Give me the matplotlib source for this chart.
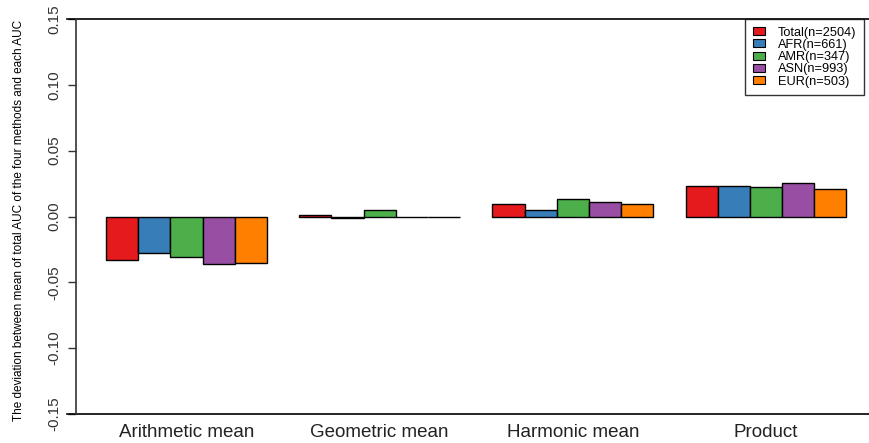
import numpy as np
import matplotlib
matplotlib.use("Agg")
import matplotlib.pyplot as plt
from matplotlib.patches import Patch

methods = ["Arithmetic mean", "Geometric mean", "Harmonic mean", "Product"]
groups = ["Total(n=2504)", "AFR(n=661)", "AMR(n=347)", "ASN(n=993)", "EUR(n=503)"]
colors = ["#E41A1C", "#377EB8", "#4DAF4A", "#984EA3", "#FF7F00"]

# deviation per method (rows) and population (columns)
total = [-0.0327, 0.0010, 0.0097, 0.0234]
afr = [-0.0280, -0.0010, 0.0053, 0.0234]
amr = [-0.0305, 0.0050, 0.0135, 0.0223]
asn = [-0.0360, 0.0000, 0.0112, 0.0256]
eur = [-0.0350, 0.0000, 0.0097, 0.0208]
values = [total, afr, amr, asn, eur]

yticks = [-0.15, -0.10, -0.05, 0.00, 0.05, 0.10, 0.15]

plt.rcParams['font.family'] = ['Liberation Sans', 'DejaVu Sans']

fig = plt.figure(figsize=(8.7, 4.43), dpi=100)
W, H = 870, 443
ax = fig.add_axes([76.4 / W, (H - 429.8) / H, (870 - 76.4) / W, 426.6 / H])

for i, vals in enumerate(values):
    xs = [g * 6 + 1 + i + 0.5 for g in range(len(methods))]
    ax.bar(xs, vals, width=1.0, color=colors[i], edgecolor="black", linewidth=1.0)

ax.set_xlim(0.08, 24.73)
ax.set_ylim(-0.162, 0.162)

for s in ["top", "right", "bottom"]:
    ax.spines[s].set_visible(False)
ax.spines["left"].set_bounds(-0.15, 0.15)
ax.spines["left"].set_linewidth(1.2)
ax.spines["left"].set_color("#333333")

ax.set_yticks(yticks)
ax.set_yticklabels(["%.2f" % t for t in yticks], rotation=90, va="center",
                   fontsize=11, color="#222222")
ax.tick_params(axis="y", length=6, width=1.0, pad=5, colors="#333333")

ax.set_xticks([g * 6 + 3.5 for g in range(len(methods))])
ax.set_xticklabels(methods, fontsize=13.5, color="#222222")
ax.tick_params(axis="x", length=0, pad=-4)

for yv in (-0.15, 0.15):
    ax.axhline(yv, xmin=-0.012, xmax=1, color="black", linewidth=1.2, clip_on=False)

ax.set_ylabel("The deviation between mean of total AUC of the four methods and each AUC",
              fontsize=8.5)
ax.yaxis.set_label_coords(-0.065, 0.49)

handles = [Patch(facecolor=c, edgecolor="black", linewidth=0.8) for c in colors]
leg = ax.legend(handles, groups, loc="upper left",
                bbox_to_anchor=((745 - 76.4) / (870 - 76.4), (429.8 - 19) / 426.6),
                fontsize=9.2, frameon=True, fancybox=False, handlelength=1.0,
                handleheight=0.6, handletextpad=1.0, labelspacing=0.02,
                borderpad=0.6, borderaxespad=0)
leg.get_frame().set_edgecolor("black")
leg.get_frame().set_linewidth(1.0)

fig.savefig("out.png", dpi=100)
